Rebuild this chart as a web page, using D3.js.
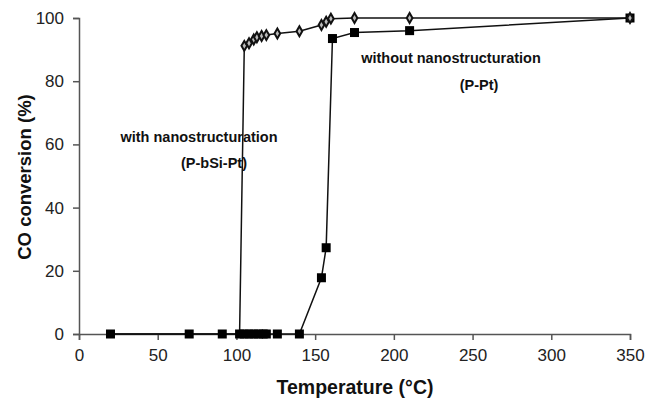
<!DOCTYPE html>
<html>
<head>
<meta charset="utf-8">
<script src="https://cdn.jsdelivr.net/npm/d3@7"></script>
<style>
  body { margin: 0; background: #fff; }
  text { font-family: "Liberation Sans", Arial, sans-serif; }
</style>
</head>
<body>
<div id="graph"></div>
<script>
// with nanostructuration (P-bSi-Pt), diamonds
let tempBSi = [20, 70, 91, 102, 105, 108, 111, 113, 116, 119, 126, 140, 154, 157, 160, 175, 210, 350];
let convBSi = [0, 0, 0, 0, 91.2, 92, 93.2, 93.9, 94.3, 94.6, 95.1, 95.8, 97.8, 98.8, 99.8, 100, 100, 100];
// without nanostructuration (P-Pt), squares
let tempPt = [20, 70, 91, 102, 105, 108, 111, 114, 117, 119, 126, 140, 154, 157, 161, 175, 210, 350];
let convPt = [0, 0, 0, 0, 0, 0, 0, 0, 0, 0, 0, 0, 17.8, 27.3, 93.5, 95.4, 96, 100];
let xTicks = [0, 50, 100, 150, 200, 250, 300, 350];
let yTicks = [0, 20, 40, 60, 80, 100];

let W = 647, H = 399;
let x = d3.scaleLinear().domain([0, 350]).range([79, 630]);
let y = d3.scaleLinear().domain([0, 100]).range([334, 18]);

let svg = d3.select("#graph").append("svg")
  .attr("width", W).attr("height", H);

let axisCol = "#555";

// x axis
let gx = svg.append("g")
  .attr("transform", "translate(0," + y(0) + ")")
  .call(d3.axisBottom(x).tickValues(xTicks).tickSizeOuter(0).tickSize(6).tickPadding(9));
// y axis
let gy = svg.append("g")
  .attr("transform", "translate(" + x(0) + ",0)")
  .call(d3.axisLeft(y).tickValues(yTicks).tickSizeOuter(0).tickSize(6).tickPadding(9));

[gx, gy].forEach(function(g) {
  g.select(".domain").attr("stroke", axisCol).attr("stroke-width", 1.5);
  g.selectAll(".tick line").attr("stroke", axisCol).attr("stroke-width", 1.5);
  g.selectAll(".tick text")
    .attr("fill", "#222")
    .style("font-size", "17px")
    .style("font-family", "'Liberation Sans', Arial, sans-serif");
});

let line = d3.line()
  .x(function(d) { return x(d[0]); })
  .y(function(d) { return y(d[1]); });

let bsi = tempBSi.map(function(t, i) { return [t, convBSi[i]]; });
let pt = tempPt.map(function(t, i) { return [t, convPt[i]]; });

svg.append("path").datum(bsi)
  .attr("d", line).attr("fill", "none")
  .attr("stroke", "#111").attr("stroke-width", 1.5);
svg.append("path").datum(pt)
  .attr("d", line).attr("fill", "none")
  .attr("stroke", "#111").attr("stroke-width", 1.5);

// squares
svg.selectAll(".sq").data(pt)
  .enter().append("rect")
  .attr("class", "sq")
  .attr("x", function(d) { return x(d[0]) - 4.5; })
  .attr("y", function(d) { return y(d[1]) - 4.5; })
  .attr("width", 9).attr("height", 9)
  .attr("fill", "#000");

// diamonds
svg.selectAll(".dia").data(bsi.filter(function(d) { return d[1] > 0; }))
  .enter().append("path")
  .attr("class", "dia")
  .attr("d", d3.symbol().type(d3.symbolDiamond).size(28))
  .attr("transform", function(d) { return "translate(" + x(d[0]) + "," + y(d[1]) + ")"; })
  .attr("fill", "#bbb")
  .attr("stroke", "#111")
  .attr("stroke-width", 2);

// annotations
let ann = svg.append("g")
  .attr("font-weight", "bold").attr("font-size", "14.5px")
  .attr("text-anchor", "middle").attr("fill", "#111");
ann.append("text").attr("x", 199).attr("y", 142).text("with nanostructuration");
ann.append("text").attr("x", 214).attr("y", 168).text("(P-bSi-Pt)");
ann.append("text").attr("x", 451).attr("y", 63).text("without nanostructuration");
ann.append("text").attr("x", 479).attr("y", 90).text("(P-Pt)");

// axis titles
svg.append("text")
  .attr("x", 355).attr("y", 394)
  .attr("text-anchor", "middle")
  .attr("font-weight", "bold").attr("font-size", "19.5px")
  .attr("fill", "#111")
  .text("Temperature (°C)");
svg.append("text")
  .attr("transform", "translate(31,177) rotate(-90)")
  .attr("text-anchor", "middle")
  .attr("font-weight", "bold").attr("font-size", "18.5px")
  .attr("fill", "#111")
  .text("CO conversion (%)");
</script>
</body>
</html>
